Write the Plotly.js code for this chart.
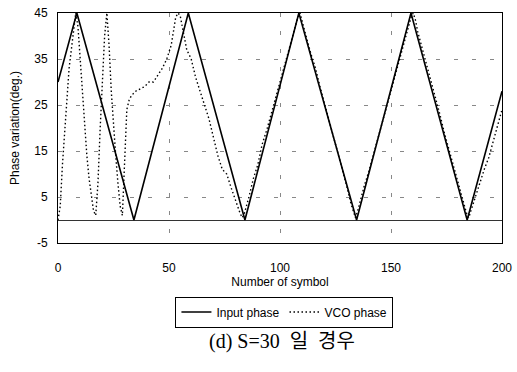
<!DOCTYPE html>
<html>
<head>
<meta charset="utf-8">
<script src="https://cdn.plot.ly/plotly-3.0.1.min.js"></script>
<style>html,body{margin:0;padding:0;background:#fff;}#chart{width:517px;height:372px;}</style>
</head>
<body>
<div id="chart"></div>
<script>
// Input phase (triangle wave, vertices)
const inputX = [0, 8.5, 34.2, 58.7, 84.2, 108.5, 134.5, 159, 184.3, 200];
const inputY = [30, 45, 0, 45, 0, 45, 0, 45, 0, 28];

// VCO phase
const vcoX = [0,1,2,3,4,5,6,7,8,9,10,11,12,13,14,15,16,17,18,19,20,21,22,23,24,25,26,27,28,29,30,31,32,33,35,37,39,41,43,45,47,49,51,52,53,54,55,56,57,58,60,62,64,66,68,70,72,74,76,78,80,82,83,84,86,88,90,92,94,96,98,100,102,104,106,108,109,110,112,114,116,118,120,122,124,126,128,130,132,134,135,136,138,140,142,144,146,148,150,152,154,156,158,159,160,161,162,164,166,168,170,172,174,176,178,180,182,184,185,186,188,190,192,194,196,198,200];
const vcoY = [0,3,12,18,26,33,37,42,45,42,35,26,20,14,9,5,2,1,8,20,30,40,45,38,28,20,14,8,3,1,12,24,26,27,28,28.5,29,30,30,31.5,33,35,38,41,44,45,44.5,42,39,37,35,31,28,25,22,18,14,11,10,7,4,1.5,0.5,1.5,5,9,12,16.5,19.5,23,27,30.5,34,37,41,44,45,43,39.5,36,33,29,25.5,22,18,15,11,7.5,3.5,0.5,2,4,7.5,10.5,14,18,21.5,25,28.5,32,35,38.5,42,44,45,43.5,41,37.5,34,30,26.5,23,19,15.5,12,8.5,5,1.5,0.5,2,5,8.5,11,13.5,17,20.5,24];

const xTicks = [0, 50, 100, 150, 200];
const yTicks = [-5, 5, 15, 25, 35, 45];

const sans = 'Liberation Sans, Arial, sans-serif';

const traces = [
  {x: inputX, y: inputY, name: 'Input phase', type: 'scatter', mode: 'lines',
   line: {color: '#000', width: 1.6}},
  {x: vcoX, y: vcoY, name: 'VCO phase', type: 'scatter', mode: 'lines',
   line: {color: '#000', width: 1.4, dash: '1.5px,2.5px'}}
];

const layout = {
  width: 517, height: 372,
  margin: {l: 58, r: 15, t: 13, b: 129},
  paper_bgcolor: '#fff', plot_bgcolor: '#fff',
  font: {family: sans, size: 12, color: '#000'},
  showlegend: true,
  xaxis: {
    range: [0, 200], tickvals: xTicks, ticktext: xTicks.map(String),
    showline: true, linecolor: '#000', linewidth: 1, mirror: true,
    showgrid: true, gridcolor: '#888', gridwidth: 1, griddash: '4px,14px',
    zeroline: false,
    ticks: 'outside', ticklen: 14, tickcolor: 'rgba(0,0,0,0)',
    tickfont: {family: sans, size: 12},
    title: {text: 'Number of symbol', standoff: 0, font: {family: sans, size: 12}},
    automargin: false
  },
  yaxis: {
    range: [-5, 45], tickvals: yTicks, ticktext: yTicks.map(String),
    showline: true, linecolor: '#000', linewidth: 1, mirror: true,
    showgrid: true, gridcolor: '#888', gridwidth: 1, griddash: '4px,14px',
    zeroline: true, zerolinecolor: '#333', zerolinewidth: 1,
    ticks: 'outside', ticklen: 7, tickcolor: 'rgba(0,0,0,0)',
    tickfont: {family: sans, size: 12},
    title: {text: 'Phase variation(deg.)', standoff: 12, font: {family: sans, size: 12}},
    automargin: false
  },
  legend: {
    orientation: 'h', x: 0.51, xanchor: 'center', y: -0.30, yanchor: 'middle',
    bordercolor: '#000', borderwidth: 1, bgcolor: '#fff',
    font: {family: sans, size: 12}, itemwidth: 30, tracegroupgap: 0
  },
  annotations: [{
    xref: 'paper', yref: 'paper', x: 0.505, y: -0.43, xanchor: 'center', yanchor: 'middle',
    showarrow: false, text: '(d)\u00a0S=30\u00a0\u00a0일\u00a0\u00a0경우',
    font: {family: 'Liberation Serif, Noto Sans CJK KR, serif', size: 20, color: '#000'}
  }]
};

Plotly.newPlot('chart', traces, layout, {displayModeBar: false, staticPlot: true});
</script>
</body>
</html>
